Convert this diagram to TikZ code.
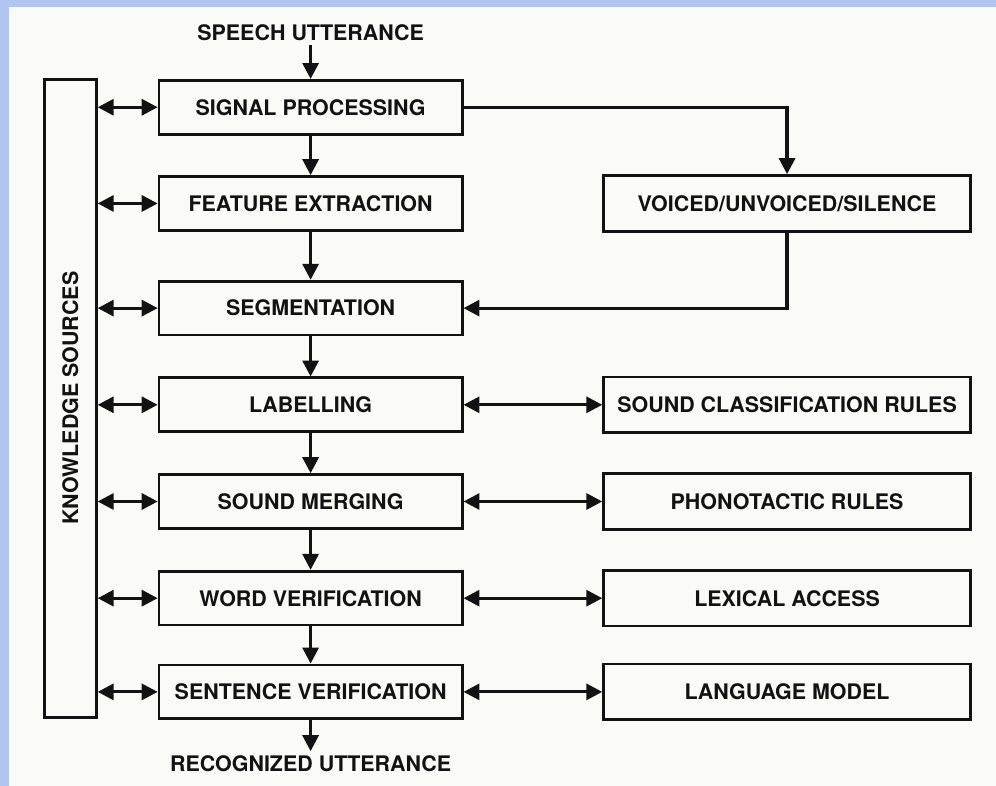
\documentclass[tikz,border=0pt]{standalone}
\usepackage{fontspec}
\setmainfont{TeX Gyre Heros}
\usetikzlibrary{arrows.meta}
\definecolor{frameblue}{RGB}{176,198,240}
\definecolor{paper}{RGB}{250,250,246}
\definecolor{ink}{RGB}{18,18,18}
\begin{document}
\begin{tikzpicture}[
  x=1pt, y=-1pt,
  box/.style={draw=ink, line width=2.8pt, fill=paper, align=center, minimum width=304pt, minimum height=54pt, font=\fontsize{21.5}{24}\selectfont\bfseries, text=ink},
  rbox/.style={box, minimum width=368pt, minimum height=56pt},
  label/.style={align=center, font=\fontsize{21.5}{24}\selectfont\bfseries, text=ink},
  >={Triangle[length=16pt, width=16pt]},
  every path/.style={line width=3.2pt, draw=ink},
  node distance=97pt
]
\useasboundingbox (0,0) rectangle (996,785);
\fill[frameblue] (0,0) rectangle (996,785);
\fill[paper] (9,7) rectangle (996,785);
\node[box] (sp) at (310,106) {SIGNAL PROCESSING};
\node[box, below of=sp, node distance=96.5pt] (fe) {FEATURE EXTRACTION};
\node[box, below of=fe, node distance=105pt] (seg) {SEGMENTATION};
\node[box, below of=seg] (lab) {LABELLING};
\node[box, below of=lab] (sm) {SOUND MERGING};
\node[box, below of=sm] (wv) {WORD VERIFICATION};
\node[box, below of=wv, node distance=94pt] (sv) {SENTENCE VERIFICATION};
\node[label] (su) at (310,31) {SPEECH UTTERANCE};
\node[label] (ru) at (310,765) {RECOGNIZED UTTERANCE};
\node[rbox, right of=fe, node distance=478pt] (vus) {VOICED/UNVOICED/SILENCE};
\node[rbox, right of=lab, node distance=478pt] (scr) {SOUND CLASSIFICATION RULES};
\node[rbox, right of=sm, node distance=478pt] (pr) {PHONOTACTIC RULES};
\node[rbox, right of=wv, node distance=478pt] (la) {LEXICAL ACCESS};
\node[rbox, right of=sv, node distance=478pt] (lm) {LANGUAGE MODEL};
\node[box, rotate=90, minimum width=640pt, minimum height=52pt] (ks) at (69,398) {KNOWLEDGE SOURCES};
\draw[->] (su) -- (sp);
\draw[->] (sp) -- (fe);
\draw[->] (fe) -- (seg);
\draw[->] (seg) -- (lab);
\draw[->] (lab) -- (sm);
\draw[->] (sm) -- (wv);
\draw[->] (wv) -- (sv);
\draw[->] (sv) -- (ru);
\draw[->] (sp.east) -| (vus.north);
\draw[->] (vus.south) |- (seg.east);
\draw[<->] (lab) -- (scr);
\draw[<->] (sm) -- (pr);
\draw[<->] (wv) -- (la);
\draw[<->] (sv) -- (lm);
\draw[<->] (ks.south |- sp) -- (sp.west);
\draw[<->] (ks.south |- fe) -- (fe.west);
\draw[<->] (ks.south |- seg) -- (seg.west);
\draw[<->] (ks.south |- lab) -- (lab.west);
\draw[<->] (ks.south |- sm) -- (sm.west);
\draw[<->] (ks.south |- wv) -- (wv.west);
\draw[<->] (ks.south |- sv) -- (sv.west);
\end{tikzpicture}
\end{document}
